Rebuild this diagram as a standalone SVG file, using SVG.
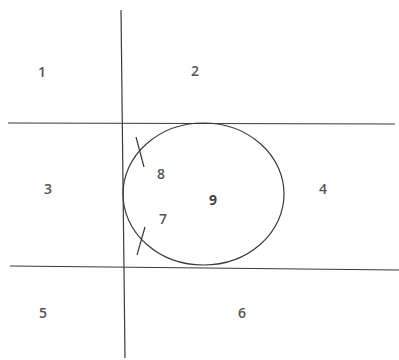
<svg xmlns="http://www.w3.org/2000/svg" width="399" height="360" viewBox="0 0 399 360">
<style>
.ln{stroke:#3a3a3a;stroke-width:1.2;fill:none}
.lb{font-family:"Open Sans","Liberation Sans",sans-serif;font-size:14px;font-weight:600;fill:#555;text-anchor:middle;dominant-baseline:central}
.bd{font-weight:bold;fill:#444}
</style>
<rect width="399" height="360" fill="#fff"/>
<g id="connectors">
<line class="ln" x1="121" y1="10" x2="125" y2="358"/>
<line class="ln" x1="8" y1="123" x2="395" y2="124"/>
<line class="ln" x1="10" y1="266" x2="399" y2="270"/>
</g>
<g id="circle"><ellipse class="ln" cx="203.5" cy="194" rx="80.5" ry="71"/></g>
<g id="tick-8"><line class="ln" x1="136" y1="137" x2="144" y2="167"/></g>
<g id="tick-7"><line class="ln" x1="145" y1="227" x2="137" y2="255"/></g>
<g id="n1"><text class="lb" x="42" y="71">1</text></g>
<g id="n2"><text class="lb" x="195" y="70">2</text></g>
<g id="n3"><text class="lb" x="48" y="188">3</text></g>
<g id="n4"><text class="lb" x="323" y="188">4</text></g>
<g id="n5"><text class="lb" x="43" y="312">5</text></g>
<g id="n6"><text class="lb" x="242" y="312">6</text></g>
<g id="n7"><text class="lb" x="163" y="218">7</text></g>
<g id="n8"><text class="lb" x="161" y="173">8</text></g>
<g id="n9"><text class="lb bd" x="213" y="199">9</text></g>
</svg>
